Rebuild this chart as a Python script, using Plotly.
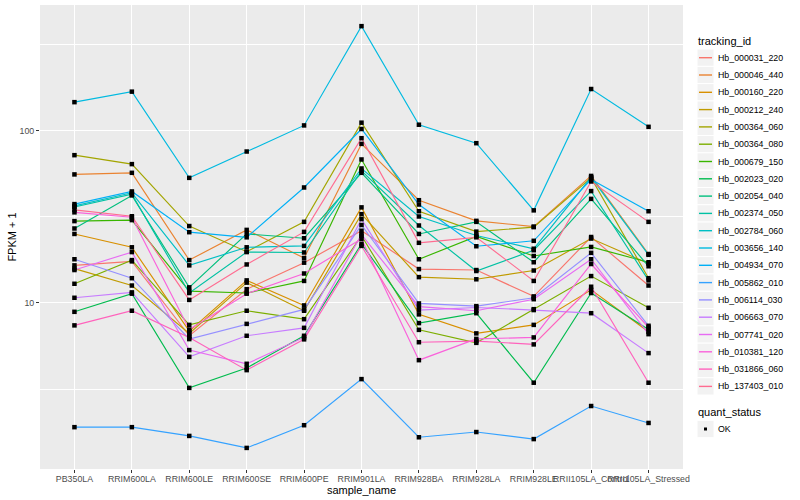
import plotly.graph_objects as go

samples = ["PB350LA", "RRIM600LA", "RRIM600LE", "RRIM600SE", "RRIM600PE", "RRIM901LA",
           "RRIM928BA", "RRIM928LA", "RRIM928LE", "RRII105LA_Control", "RRII105LA_Stressed"]

tracking_ids = ["Hb_000031_220", "Hb_000046_440", "Hb_000160_220", "Hb_000212_240",
                "Hb_000364_060", "Hb_000364_080", "Hb_000679_150", "Hb_002023_020",
                "Hb_002054_040", "Hb_002374_050", "Hb_002784_060", "Hb_003656_140",
                "Hb_004934_070", "Hb_005862_010", "Hb_006114_030", "Hb_006663_070",
                "Hb_007741_020", "Hb_010381_120", "Hb_031866_060", "Hb_137403_010"]

colors = ["#F8766D", "#EA8331", "#D89000", "#C09B00", "#A3A500", "#7CAE00", "#39B600",
          "#00BB4E", "#00BF7D", "#00C1A3", "#00BFC4", "#00BAE0", "#00B0F6", "#35A2FF",
          "#9590FF", "#C77CFF", "#E76BF3", "#FA62DB", "#FF62BC", "#FF6C91"]

# FPKM + 1 per sample (order of `samples`)
Hb_000031_220 = [16.5, 17.4, 6.44, 12.0, 17.1, 26.2, 15.7, 15.5, 10.9, 24.1, 12.6]
Hb_000046_440 = [55.6, 56.8, 17.7, 26.5, 18.2, 83.6, 39.4, 29.9, 27.7, 54.5, 19.2]
Hb_000160_220 = [25.1, 21.0, 6.85, 13.5, 9.66, 35.8, 8.57, 6.65, 7.45, 11.9, 6.79]
Hb_000212_240 = [15.8, 12.6, 6.64, 13.1, 9.0, 32.7, 14.1, 13.7, 15.4, 23.6, 16.9]
Hb_000364_060 = [71.9, 63.8, 27.9, 19.8, 29.5, 111, 34.0, 25.9, 27.5, 53.1, 13.9]
Hb_000364_080 = [12.9, 17.7, 7.45, 9.0, 8.04, 24.5, 6.97, 5.86, 9.19, 14.3, 9.36]
Hb_000679_150 = [29.8, 30.2, 11.7, 11.4, 13.4, 67.9, 17.9, 24.3, 18.7, 21.1, 17.2]
Hb_002023_020 = [8.87, 11.3, 3.21, 4.19, 6.44, 22.0, 7.63, 8.71, 3.44, 11.4, 7.01]
Hb_002054_040 = [27.0, 42.0, 12.3, 25.1, 23.7, 56.8, 25.1, 29.5, 17.2, 40.1, 16.3]
Hb_002374_050 = [36.0, 42.7, 11.4, 19.7, 19.6, 58.3, 28.1, 15.3, 20.2, 44.5, 13.5]
Hb_002784_060 = [36.5, 43.5, 16.5, 21.0, 21.4, 60.2, 31.7, 24.6, 20.6, 53.5, 19.0]
Hb_003656_140 = [146, 168, 53.1, 75.5, 107, 403, 108, 84.4, 34.4, 174, 105]
Hb_004934_070 = [37.4, 44.3, 25.7, 24.0, 46.7, 102, 37.2, 21.3, 22.9, 52.0, 34.0]
Hb_005862_010 = [1.90, 1.90, 1.69, 1.44, 1.95, 3.61, 1.66, 1.78, 1.62, 2.52, 2.01]
Hb_006114_030 = [17.9, 13.9, 6.16, 7.55, 9.16, 28.3, 9.92, 9.57, 10.7, 19.5, 7.36]
Hb_006663_070 = [10.7, 11.5, 4.86, 6.44, 7.16, 30.6, 9.08, 9.4, 9.08, 8.71, 5.11]
Hb_007741_020 = [15.5, 19.7, 5.32, 4.43, 6.3, 24.9, 9.5, 9.0, 10.5, 17.9, 6.58]
Hb_010381_120 = [33.5, 31.4, 7.0, 11.3, 14.8, 23.5, 4.65, 6.18, 6.3, 16.8, 7.2]
Hb_031866_060 = [7.40, 9.0, 6.3, 4.07, 6.14, 21.4, 5.91, 6.0, 5.74, 12.4, 3.44]
Hb_137403_010 = [34.6, 31.8, 10.4, 16.7, 25.8, 90.2, 22.3, 24.0, 13.4, 50.6, 29.5]

series = [Hb_000031_220, Hb_000046_440, Hb_000160_220, Hb_000212_240, Hb_000364_060,
          Hb_000364_080, Hb_000679_150, Hb_002023_020, Hb_002054_040, Hb_002374_050,
          Hb_002784_060, Hb_003656_140, Hb_004934_070, Hb_005862_010, Hb_006114_030,
          Hb_006663_070, Hb_007741_020, Hb_010381_120, Hb_031866_060, Hb_137403_010]

quant_status = ["OK"]

y_ticks = [10, 100]
y_minor = [10 ** 0.5, 10 ** 1.5, 10 ** 2.5]

W, H = 800, 500
L, R, T, B = 40, 683, 5, 469  # plot panel in pixels

fig = go.Figure()
for name, col, vals in zip(tracking_ids, colors, series):
    fig.add_trace(go.Scatter(x=samples, y=vals, mode="lines", name=name,
                             line=dict(color=col, width=1.15), showlegend=False,
                             hoverinfo="name+y"))

all_x = [s for vals in series for s in samples]
all_y = [v for vals in series for v in vals]
fig.add_trace(go.Scatter(x=all_x, y=all_y, mode="markers", name=quant_status[0],
                         marker=dict(symbol="square", size=4.5, color="black"),
                         showlegend=False))

font = "Liberation Sans, Arial, sans-serif"


def px(x):
    return (x - L) / (R - L)


def py(y):
    return (B - y) / (B - T)


shapes = []
annotations = []

# legend: tracking_id
annotations.append(dict(x=px(696), y=py(41), xref="paper", yref="paper", text="tracking_id",
                        showarrow=False, xanchor="left", yanchor="middle",
                        font=dict(family=font, size=11, color="black")))
step = 17.3
for i, (name, col) in enumerate(zip(tracking_ids, colors)):
    c = 57.7 + step * i
    shapes.append(dict(type="rect", xref="paper", yref="paper",
                       x0=px(697), x1=px(714), y0=py(c - step / 2), y1=py(c + step / 2),
                       fillcolor="#F2F2F2", line=dict(color="white", width=1), layer="above"))
    shapes.append(dict(type="line", xref="paper", yref="paper",
                       x0=px(699), x1=px(712), y0=py(c), y1=py(c),
                       line=dict(color=col, width=1.4), layer="above"))
    annotations.append(dict(x=px(716), y=py(c), xref="paper", yref="paper", text=name,
                            showarrow=False, xanchor="left", yanchor="middle",
                            font=dict(family=font, size=8.8, color="black")))

# legend: quant_status
annotations.append(dict(x=px(696), y=py(412), xref="paper", yref="paper", text="quant_status",
                        showarrow=False, xanchor="left", yanchor="middle",
                        font=dict(family=font, size=11, color="black")))
c = 429
shapes.append(dict(type="rect", xref="paper", yref="paper",
                   x0=px(697), x1=px(714), y0=py(c - step / 2), y1=py(c + step / 2),
                   fillcolor="#F2F2F2", line=dict(color="white", width=1), layer="above"))
shapes.append(dict(type="rect", xref="paper", yref="paper",
                   x0=px(704), x1=px(707), y0=py(c - 1.5), y1=py(c + 1.5),
                   fillcolor="black", line=dict(width=0), layer="above"))
annotations.append(dict(x=px(716), y=py(c), xref="paper", yref="paper", text=quant_status[0],
                        showarrow=False, xanchor="left", yanchor="middle",
                        font=dict(family=font, size=8.8, color="black")))

fig.update_layout(
    width=W, height=H,
    margin=dict(l=L, r=W - R, t=T, b=H - B, pad=0),
    paper_bgcolor="white", plot_bgcolor="#EBEBEB",
    font=dict(family=font, size=8.8, color="#4D4D4D"),
    shapes=shapes, annotations=annotations,
    showlegend=False,
    xaxis=dict(type="category", categoryorder="array", categoryarray=samples,
               range=[-0.6, len(samples) - 0.4], showgrid=True, gridcolor="white",
               gridwidth=1.1, zeroline=False, showline=False, ticks="outside",
               ticklen=3, tickcolor="#333333", tickwidth=1, tickangle=0,
               ticklabelstandoff=-2,
               tickfont=dict(family=font, size=8.8, color="#4D4D4D"),
               title=dict(text="sample_name", standoff=0,
                          font=dict(family=font, size=11, color="black"))),
    yaxis=dict(type="log", range=[0.036, 2.728], tickvals=y_ticks,
               ticktext=[str(v) for v in y_ticks], showgrid=True, gridcolor="white",
               gridwidth=1.1, zeroline=False, showline=False, ticks="outside",
               ticklen=3, tickcolor="#333333", tickwidth=1,
               tickfont=dict(family=font, size=8.8, color="#4D4D4D"),
               minor=dict(tickvals=y_minor, showgrid=True, gridcolor="white",
                          gridwidth=0.5, ticks=""),
               title=dict(text="FPKM + 1", standoff=0,
                          font=dict(family=font, size=11, color="black"))),
)

fig.write_html("out.html", config={"displayModeBar": False},
               post_script="document.body.style.margin='0px';")
